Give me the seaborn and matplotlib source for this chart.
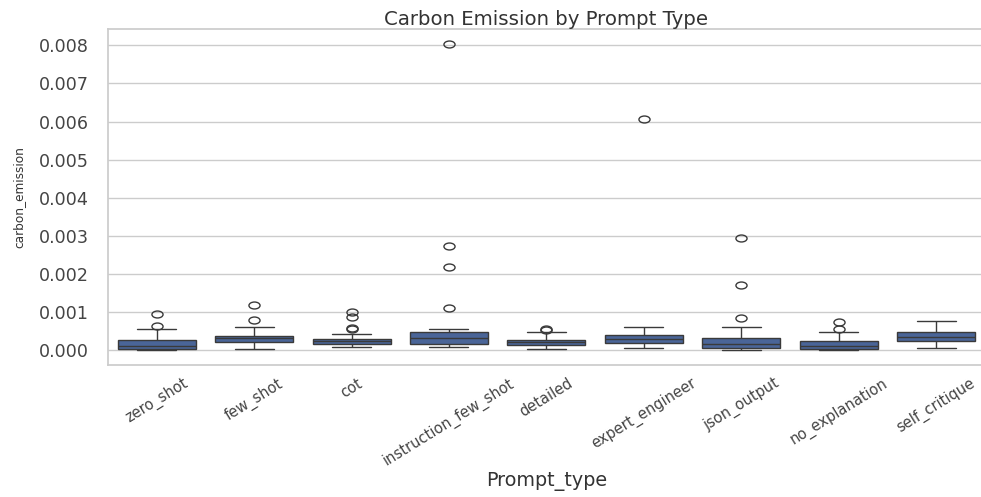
import numpy as np
import pandas as pd
import matplotlib
matplotlib.use("Agg")
import matplotlib.pyplot as plt
from matplotlib.path import Path
from matplotlib.transforms import Affine2D
import seaborn as sns

# Per-run carbon emission (kg CO2eq) for each prompt type
prompt_types = [
    "zero_shot", "few_shot", "cot", "instruction_few_shot", "detailed",
    "expert_engineer", "json_output", "no_explanation", "self_critique",
]

zero_shot = [0.000004, 0.00001, 0.00002, 0.000025, 0.00003, 0.00005, 0.00007, 0.00009,
             0.00011, 0.00015, 0.00019, 0.00022, 0.00025, 0.00031, 0.00054, 0.00063, 0.00094]
few_shot = [0.00003, 0.00009, 0.00014, 0.00018, 0.0002, 0.00023, 0.00026, 0.00028,
            0.0003, 0.00032, 0.00034, 0.00036, 0.00037, 0.00042, 0.0006, 0.00079, 0.00117]
cot = [0.00007, 0.0001, 0.00012, 0.00014, 0.00015, 0.00016, 0.00018, 0.00019, 0.0002,
       0.00021, 0.00022, 0.00023, 0.00024, 0.00026, 0.00027, 0.00028, 0.00041,
       0.00055, 0.00058, 0.00086, 0.00099]
instruction_few_shot = [0.00007, 0.0001, 0.00012, 0.00014, 0.00015, 0.00016, 0.00019,
                        0.00022, 0.00025, 0.00028, 0.0003, 0.00033, 0.00036, 0.0004,
                        0.00043, 0.00046, 0.00054, 0.0011, 0.00217, 0.00272, 0.00803]
detailed = [0.00003, 0.00006, 0.00009, 0.00011, 0.00012, 0.00015, 0.00017, 0.00019,
            0.0002, 0.00022, 0.00024, 0.00026, 0.00027, 0.00031, 0.00048, 0.00052, 0.00055]
expert_engineer = [0.00006, 0.0001, 0.00014, 0.00016, 0.00018, 0.00021, 0.00024, 0.00026,
                   0.00028, 0.0003, 0.00033, 0.00035, 0.00038, 0.00042, 0.00047, 0.00059, 0.00607]
json_output = [0.000005, 0.00001, 0.00002, 0.00003, 0.00004, 0.00006, 0.00009, 0.00012,
               0.00015, 0.00019, 0.00023, 0.00028, 0.00032, 0.00059, 0.00084, 0.0017, 0.00294]
no_explanation = [0.000003, 0.000008, 0.000012, 0.000016, 0.00002, 0.00004, 0.00006, 0.00008,
                  0.0001, 0.00013, 0.00016, 0.00019, 0.00022, 0.00028, 0.00046, 0.00055, 0.00073]
self_critique = [0.00006, 0.00012, 0.00017, 0.0002, 0.00022, 0.00026, 0.00029, 0.00032,
                 0.00035, 0.00038, 0.00041, 0.00045, 0.00048, 0.00053, 0.0006, 0.00068, 0.00077]

series = [zero_shot, few_shot, cot, instruction_few_shot, detailed,
          expert_engineer, json_output, no_explanation, self_critique]

df = pd.DataFrame({
    "Prompt_type": np.repeat(prompt_types, [len(s) for s in series]),
    "carbon_emission": np.concatenate(series),
})

sns.set_theme(style="whitegrid")
plt.rcParams["font.family"] = ["DejaVu Sans"]

fig = plt.figure(figsize=(9.81, 4.97), dpi=100)
ax = fig.add_axes([0.110, 0.2656, 0.894, 0.676])

# slightly wide oval markers for the outliers
oval = Affine2D().scale(1.6, 1.0).transform_path(Path.unit_circle())

sns.boxplot(
    data=df, x="Prompt_type", y="carbon_emission", order=prompt_types, ax=ax,
    color="#4a6598", saturation=1, linecolor="#3a3a3a",
    flierprops={"marker": oval, "markersize": 8},
)

ax.spines["right"].set_visible(False)
ax.set_title("Carbon Emission by Prompt Type", fontsize=14.2, pad=3, color="#333333")
ax.set_xlabel("Prompt_type", fontsize=13.8, labelpad=2, color="#333333")
ax.set_ylabel("carbon_emission", fontsize=8.7, labelpad=10, color="#333333")
ax.tick_params(axis="y", labelsize=12.6, pad=7.7, labelcolor="#444444")
ax.tick_params(axis="x", labelsize=10.5, pad=1.6, labelcolor="#444444")
for lbl in ax.get_xticklabels():
    lbl.set_rotation(31.7)
    lbl.set_ha("center")

fig.savefig("out.png", dpi=100)
